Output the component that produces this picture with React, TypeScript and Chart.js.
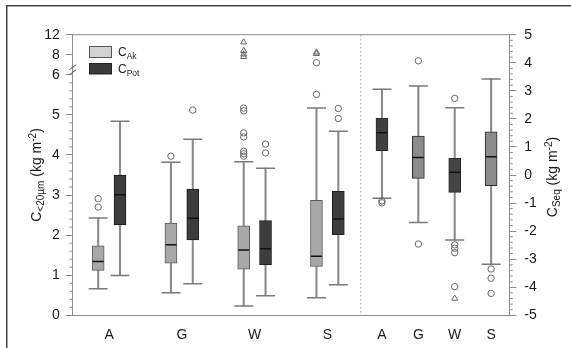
import React, { useEffect, useRef } from 'react';
import { Chart, registerables, LinearScale } from 'chart.js';

// ---------- data ----------
const groupLabels = ['A', 'G', 'W', 'S'];
const seqLabels = ['A', 'G', 'W', 'S'];
const leftPositions = [1, 3, 5, 7];
const rightPositions = [8.5, 9.5, 10.5, 11.5];
const pairOffset = 0.3;
const dividerPosition = 7.92;

const leftTicks = [0, 1, 2, 3, 4, 5, 6, 8, 12];
const rightTicks = [-5, -4, -3, -2, -1, 0, 1, 2, 3, 4, 5];

// C_Ak (light boxes)
const cAkLow = [0.66, 0.56, 0.23, 0.44];
const cAkQ1 = [1.12, 1.3, 1.15, 1.22];
const cAkMedian = [1.34, 1.76, 1.63, 1.47];
const cAkQ3 = [1.73, 2.3, 2.23, 2.87];
const cAkHigh = [2.43, 3.82, 3.83, 5.17];
const cAkOutliers = [[2.7, 2.91], [3.97], [3.97, 4.03, 4.09, 4.45, 4.55, 5.1, 5.17], [5.51, 7.2]];
const cAkExtremes = [[], [], [7.8, 8.1, 8.8, 10.5], [8.2, 8.5]];

// C_Pot (dark boxes)
const cPotLow = [0.99, 0.79, 0.49, 0.76];
const cPotQ1 = [2.26, 1.88, 1.26, 2.01];
const cPotMedian = [3.01, 2.42, 1.66, 2.4];
const cPotQ3 = [3.5, 3.15, 2.36, 3.09];
const cPotHigh = [4.84, 4.39, 3.67, 4.59];
const cPotOutliers = [[], [5.12], [4.05, 4.27], [4.91, 5.16]];

// C_Seq (right panel)
const seqLow = [-0.83, -1.69, -2.32, -3.18];
const seqQ1 = [0.87, -0.12, -0.62, -0.38];
const seqMedian = [1.51, 0.62, 0.1, 0.65];
const seqQ3 = [2.02, 1.39, 0.59, 1.54];
const seqHigh = [3.06, 3.17, 2.4, 3.42];
const seqOutliers = [[-0.92, -0.99], [4.07, -2.46], [2.73, -2.49, -2.61, -2.77, -3.98], [-3.35, -3.68, -4.22]];
const seqExtremes = [[], [], [-4.4], []];
const seqColors = ['#3f3f3f', '#8c8c8c', '#444444', '#8c8c8c'];

// broken left axis: [from, to, compression]
const leftSegments = [
  [0, 6, 1],
  [6, 8, 0.25],
  [8, 12, 0.125],
];

const FONT = '"Liberation Sans", Arial, sans-serif';

function fwd(v: number): number {
  let t = 0;
  for (const [a, b, k] of leftSegments) {
    if (v <= a) break;
    t += (Math.min(v, b) - a) * k;
  }
  return t;
}
function inv(t: number): number {
  let v = 0;
  let acc = 0;
  for (const [a, b, k] of leftSegments) {
    const span = (b - a) * k;
    if (t <= acc + span) return a + (t - acc) / k;
    acc += span;
    v = b;
  }
  return v;
}

class BrokenScale extends LinearScale {
  static id = 'brokenLinear';
  static defaults = {};
  getPixelForValue(value: any) {
    if (value === null || value === undefined || isNaN(value)) return NaN;
    const t0 = fwd(this.min);
    const t1 = fwd(this.max);
    return this.getPixelForDecimal((fwd(value) - t0) / (t1 - t0));
  }
  getValueForPixel(pixel: number) {
    const t0 = fwd(this.min);
    const t1 = fwd(this.max);
    return inv(t0 + this.getDecimalForPixel(pixel) * (t1 - t0));
  }
}

Chart.register(...registerables, BrokenScale as any);

function richVertical(ctx: CanvasRenderingContext2D, bx: number, cy: number, parts: any[]) {
  ctx.save();
  ctx.translate(bx, cy);
  ctx.rotate(-Math.PI / 2);
  let total = 0;
  for (const p of parts) {
    ctx.font = `${p.s}px ${FONT}`;
    total += ctx.measureText(p.t).width;
  }
  let x = -total / 2;
  ctx.textBaseline = 'alphabetic';
  ctx.textAlign = 'left';
  for (const p of parts) {
    ctx.font = `${p.s}px ${FONT}`;
    ctx.fillText(p.t, x, p.dy);
    x += ctx.measureText(p.t).width;
  }
  ctx.restore();
}

function richText(ctx: CanvasRenderingContext2D, x: number, y: number, parts: any[]) {
  ctx.textBaseline = 'alphabetic';
  ctx.textAlign = 'left';
  for (const p of parts) {
    ctx.font = `${p.s}px ${FONT}`;
    ctx.fillText(p.t, x, y + p.dy);
    x += ctx.measureText(p.t).width;
  }
}

const extras = {
  id: 'extras',
  afterDraw(chart: any) {
    const { ctx, chartArea: ca } = chart;
    const xs = chart.scales.x;
    const yL = chart.scales.y;
    const yR = chart.scales.y2;
    ctx.save();
    // top frame line
    ctx.strokeStyle = '#8c8c8c';
    ctx.lineWidth = 1;
    ctx.beginPath();
    ctx.moveTo(ca.left, ca.top);
    ctx.lineTo(ca.right, ca.top);
    ctx.stroke();
    // divider
    const dx = xs.getPixelForValue(dividerPosition);
    ctx.setLineDash([2, 2]);
    ctx.strokeStyle = '#a8a8a8';
    ctx.beginPath();
    ctx.moveTo(dx, ca.top);
    ctx.lineTo(dx, ca.bottom);
    ctx.stroke();
    ctx.setLineDash([]);
    // minor ticks
    ctx.strokeStyle = '#8c8c8c';
    ctx.beginPath();
    for (let i = 0; i <= 30; i++) {
      if (i % 5 === 0) continue;
      const py = yL.getPixelForValue(i / 5);
      ctx.moveTo(ca.left - 3.5, py);
      ctx.lineTo(ca.left, py);
    }
    for (let i = -25; i <= 25; i++) {
      if (i % 5 === 0) continue;
      const py = yR.getPixelForValue(i / 5);
      ctx.moveTo(ca.right, py);
      ctx.lineTo(ca.right + 3.5, py);
    }
    ctx.stroke();
    // axis break marks
    ctx.strokeStyle = '#555';
    ctx.beginPath();
    const b1 = yL.getPixelForValue(6.75);
    const b2 = yL.getPixelForValue(6.25);
    for (const by of [b1, b2]) {
      ctx.moveTo(ca.left - 3.5, by + 2.5);
      ctx.lineTo(ca.left + 3.5, by - 2.5);
    }
    ctx.stroke();
    // axis titles
    ctx.fillStyle = '#1a1a1a';
    richVertical(ctx, 40.5, 175, [
      { t: 'C', s: 14, dy: 0 },
      { t: '<20µm', s: 10, dy: 3 },
      { t: ' (kg m', s: 14, dy: 0 },
      { t: '-2', s: 10, dy: -5 },
      { t: ')', s: 14, dy: 0 },
    ]);
    richVertical(ctx, 556.5, 177, [
      { t: 'C', s: 14, dy: 0 },
      { t: 'Seq', s: 10, dy: 3 },
      { t: ' (kg m', s: 14, dy: 0 },
      { t: '-2', s: 10, dy: -5 },
      { t: ')', s: 14, dy: 0 },
    ]);
    // legend
    ctx.lineWidth = 1;
    ctx.fillStyle = '#d2d2d2';
    ctx.fillRect(89.5, 46.5, 22, 11);
    ctx.strokeStyle = '#555';
    ctx.strokeRect(89.5, 46.5, 22, 11);
    ctx.fillStyle = '#3a3a3a';
    ctx.fillRect(89.5, 63.5, 22, 10.5);
    ctx.strokeStyle = '#222';
    ctx.strokeRect(89.5, 63.5, 22, 10.5);
    ctx.fillStyle = '#1a1a1a';
    richText(ctx, 118, 56, [
      { t: 'C', s: 12, dy: 0 },
      { t: 'Ak', s: 8.5, dy: 2.5 },
    ]);
    richText(ctx, 118, 73, [
      { t: 'C', s: 12, dy: 0 },
      { t: 'Pot', s: 8.5, dy: 2.5 },
    ]);
    // outer frame
    ctx.strokeStyle = '#444';
    ctx.lineWidth = 1.5;
    ctx.strokeRect(6.75, 5.75, 620, 420);
    ctx.restore();
  },
};

function boxDatasets(positions: number[], low: number[], q1: number[], med: number[], q3: number[], high: number[], outl: number[][], extr: number[][], fill: any, border: string, axis: string) {
  const pts = (vals: number[]) => vals.map((v, i) => ({ x: positions[i], y: v }));
  const flat = (arr: number[][]) => arr.flatMap((vals, i) => vals.map((v) => ({ x: positions[i], y: v })));
  return [
    {
      type: 'bar',
      yAxisID: axis,
      data: positions.map((p, i) => ({ x: p, y: [low[i], high[i]] })),
      backgroundColor: '#8a8a8a',
      borderWidth: 0,
      barThickness: 1.4,
      grouped: false,
      order: 5,
    },
    {
      type: 'bar',
      yAxisID: axis,
      data: positions.map((p, i) => ({ x: p, y: [q1[i], q3[i]] })),
      backgroundColor: fill,
      borderColor: border,
      borderWidth: 1,
      borderSkipped: false,
      barThickness: 12,
      grouped: false,
      order: 4,
    },
    {
      type: 'scatter',
      yAxisID: axis,
      data: [...pts(low), ...pts(high)],
      pointStyle: 'line',
      pointRadius: 9.5,
      pointBorderColor: '#7a7a7a',
      pointBorderWidth: 1.5,
      order: 3,
    },
    {
      type: 'scatter',
      yAxisID: axis,
      data: pts(med),
      pointStyle: 'line',
      pointRadius: 5.5,
      pointBorderColor: '#111',
      pointBorderWidth: 1.5,
      order: 2,
    },
    {
      type: 'scatter',
      yAxisID: axis,
      data: flat(outl),
      pointStyle: 'circle',
      pointRadius: 3.2,
      pointBorderColor: '#666',
      pointBackgroundColor: 'rgba(255,255,255,0)',
      pointBorderWidth: 1,
      order: 1,
    },
    {
      type: 'scatter',
      yAxisID: axis,
      data: flat(extr),
      pointStyle: 'triangle',
      pointRadius: 3.5,
      pointBorderColor: '#666',
      pointBackgroundColor: 'rgba(255,255,255,0)',
      pointBorderWidth: 1,
      order: 1,
    },
  ];
}

export default function App() {
  const ref = useRef<HTMLCanvasElement>(null);
  useEffect(() => {
    if (!ref.current) return;
    const akPos = leftPositions.map((p) => p - pairOffset);
    const potPos = leftPositions.map((p) => p + pairOffset);
    const allPositions = [...leftPositions, ...rightPositions];
    const allLabels = [...groupLabels, ...seqLabels];
    const datasets: any[] = [
      ...boxDatasets(akPos, cAkLow, cAkQ1, cAkMedian, cAkQ3, cAkHigh, cAkOutliers, cAkExtremes, '#a8a8a8', '#5c5c5c', 'y'),
      ...boxDatasets(potPos, cPotLow, cPotQ1, cPotMedian, cPotQ3, cPotHigh, cPotOutliers, [[], [], [], []], '#3d3d3d', '#1e1e1e', 'y'),
      ...boxDatasets(rightPositions, seqLow, seqQ1, seqMedian, seqQ3, seqHigh, seqOutliers, seqExtremes, seqColors, '#2a2a2a', 'y2'),
    ];
    const tickFont = { family: FONT, size: 14 };
    const chart = new Chart(ref.current, {
      type: 'bar',
      data: { datasets },
      plugins: [extras],
      options: {
        animation: false,
        responsive: false,
        events: [],
        layout: { padding: { top: 34.7, left: 0, right: 0, bottom: 0 } },
        plugins: { legend: { display: false }, tooltip: { enabled: false } },
        scales: {
          x: {
            type: 'linear',
            min: 0,
            max: 12,
            offset: false,
            grid: { display: false, offset: false },
            border: { display: true, color: '#8c8c8c', width: 1 },
            afterBuildTicks: (s: any) => {
              s.ticks = allPositions.map((v) => ({ value: v }));
            },
            ticks: {
              autoSkip: false,
              maxRotation: 0,
              padding: 3,
              color: '#1a1a1a',
              font: tickFont,
              callback: (_v: any, i: number) => allLabels[i],
            },
            afterFit: (s: any) => {
              s.height = 32.7;
            },
          },
          y: {
            type: 'brokenLinear' as any,
            position: 'left',
            min: 0,
            max: 12,
            afterBuildTicks: (s: any) => {
              s.ticks = leftTicks.map((v) => ({ value: v }));
            },
            grid: { drawOnChartArea: false, drawTicks: true, tickLength: 7, color: '#8c8c8c', tickColor: '#8c8c8c' },
            border: { display: true, color: '#8c8c8c', width: 1 },
            ticks: { padding: 6, color: '#1a1a1a', font: tickFont, callback: (v: any) => String(v) },
            afterFit: (s: any) => {
              s.width = 72.7;
            },
          },
          y2: {
            type: 'linear',
            position: 'right',
            min: -5,
            max: 5,
            afterBuildTicks: (s: any) => {
              s.ticks = rightTicks.map((v) => ({ value: v }));
            },
            grid: { drawOnChartArea: false, drawTicks: true, tickLength: 7, color: '#8c8c8c', tickColor: '#8c8c8c' },
            border: { display: true, color: '#8c8c8c', width: 1 },
            ticks: { padding: 8, color: '#1a1a1a', font: tickFont, callback: (v: any) => String(v) },
            afterFit: (s: any) => {
              s.width = 61.7;
            },
          },
        },
      } as any,
    });
    return () => chart.destroy();
  }, []);
  return (
    <div style={{ position: 'absolute', left: 0, top: 0, width: 571, height: 348, background: '#fff' }}>
      <canvas ref={ref} width={571} height={348} style={{ display: 'block' }} />
    </div>
  );
}
